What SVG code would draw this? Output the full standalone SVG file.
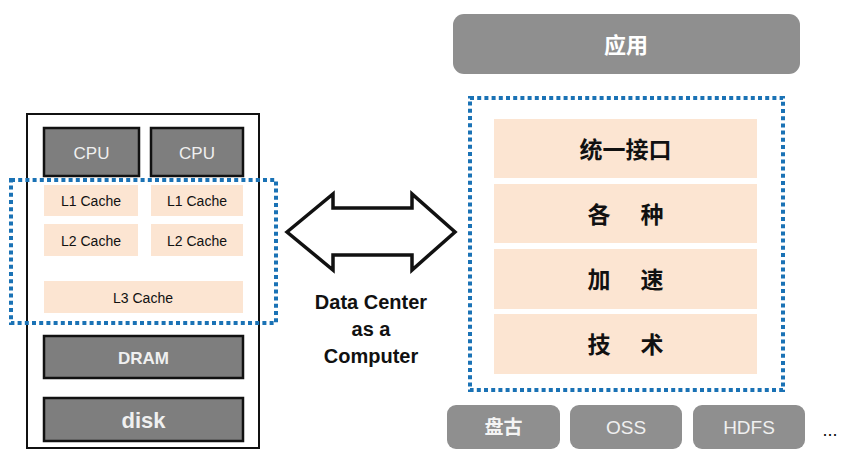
<svg xmlns="http://www.w3.org/2000/svg" width="852" height="474" viewBox="0 0 852 474">
<style>
.hw{fill:#7e7e7e;stroke:#111;stroke-width:2.5}
.cache{fill:#fce5d2}
.dot{fill:none;stroke:#1a72b5;stroke-width:4;stroke-dasharray:4 3.2}
.gr{fill:#8f8f8f}
.wt{font-family:"Liberation Sans",Arial,sans-serif;fill:#f0f0f0;text-anchor:middle}
.bt{font-family:"Liberation Sans",Arial,sans-serif;fill:#111;text-anchor:middle}
.cn{font-family:"Noto Sans CJK SC",sans-serif;text-anchor:middle;font-weight:bold}
</style>
<rect width="852" height="474" fill="#fff"/>
<g id="computer">
<rect x="27" y="114" width="232" height="334" fill="#fff" stroke="#111" stroke-width="2"/>
</g>
<g id="cpu1"><rect class="hw" x="44" y="128" width="95" height="48"/><text class="wt" x="91.5" y="159" font-size="17">CPU</text></g>
<g id="cpu2"><rect class="hw" x="151" y="128" width="92" height="48"/><text class="wt" x="197" y="159" font-size="17">CPU</text></g>
<g id="l1a"><rect class="cache" x="44" y="185" width="94" height="31"/><text class="bt" x="91" y="206" font-size="14">L1 Cache</text></g>
<g id="l1b"><rect class="cache" x="151" y="185" width="92" height="31"/><text class="bt" x="197" y="206" font-size="14">L1 Cache</text></g>
<g id="l2a"><rect class="cache" x="44" y="224" width="94" height="32"/><text class="bt" x="91" y="246" font-size="14">L2 Cache</text></g>
<g id="l2b"><rect class="cache" x="151" y="224" width="92" height="32"/><text class="bt" x="197" y="246" font-size="14">L2 Cache</text></g>
<g id="l3"><rect class="cache" x="44" y="281" width="199" height="32"/><text class="bt" x="143" y="303" font-size="14">L3 Cache</text></g>
<g id="cacheGroup"><rect class="dot" x="11" y="180" width="265" height="143"/></g>
<g id="dram"><rect class="hw" x="44" y="336" width="199" height="42"/><text class="wt" x="143.5" y="364" font-size="17" font-weight="bold">DRAM</text></g>
<g id="disk"><rect class="hw" x="44" y="398" width="199" height="43"/><text class="wt" x="143.5" y="428" font-size="22" font-weight="bold">disk</text></g>

<g id="connectors">
<polygon points="287,232 333,194 333,208 412,208 412,194 455,232 412,270 412,255 333,255 333,270" fill="#fff" stroke="#111" stroke-width="3.5" stroke-linejoin="miter"/>
</g>
<g id="label">
<text class="bt" font-weight="bold" font-size="20" x="371" y="309">Data Center</text>
<text class="bt" font-weight="bold" font-size="20" x="371" y="336">as a</text>
<text class="bt" font-weight="bold" font-size="20" x="371" y="363">Computer</text>
</g>

<g id="app"><rect class="gr" x="453" y="14" width="347" height="60" rx="11"/><text class="cn" x="626" y="53" font-size="22" fill="#fff">应用</text></g>
<g id="r1"><rect class="cache" x="494" y="119" width="263" height="59"/><text class="cn" x="625.5" y="158" font-size="23" fill="#111">统一接口</text></g>
<g id="r2"><rect class="cache" x="494" y="184" width="263" height="59"/><text class="cn" x="625.5" y="223" font-size="23" fill="#111" word-spacing="25">各 种</text></g>
<g id="r3"><rect class="cache" x="494" y="249" width="263" height="60"/><text class="cn" x="625.5" y="288" font-size="23" fill="#111" word-spacing="25">加 速</text></g>
<g id="r4"><rect class="cache" x="494" y="314" width="263" height="60"/><text class="cn" x="625.5" y="353" font-size="23" fill="#111" word-spacing="25">技 术</text></g>
<g id="accel"><rect class="dot" x="470" y="98" width="313" height="292"/></g>
<g id="pangu"><rect class="gr" x="447" y="405" width="113" height="44" rx="9"/><text class="cn" x="503.5" y="434" font-size="19" fill="#f4f4f4">盘古</text></g>
<g id="oss"><rect class="gr" x="570" y="405" width="112" height="44" rx="9"/><text class="wt" x="626" y="434" font-size="19">OSS</text></g>
<g id="hdfs"><rect class="gr" x="693" y="405" width="112" height="44" rx="9"/><text class="wt" x="749" y="434" font-size="19">HDFS</text></g>
<g id="more"><text class="bt" x="830" y="436" font-size="18">...</text></g>
</svg>
